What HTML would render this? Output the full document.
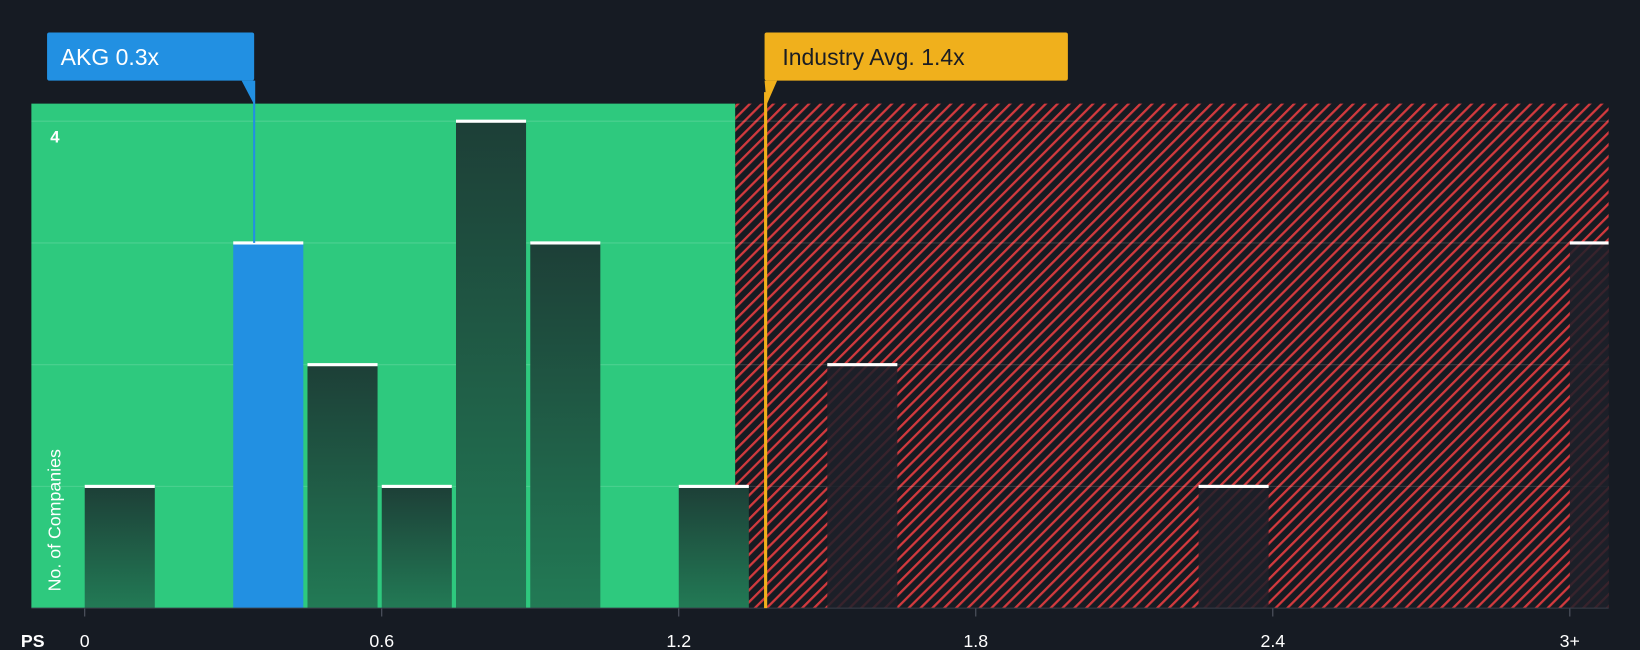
<!DOCTYPE html>
<html><head><meta charset="utf-8"><style>
html,body{margin:0;padding:0;background:#161b23;}
svg{display:block;font-family:"Liberation Sans",Arial,sans-serif;}
</style></head><body>
<svg id="chart" width="1640" height="650" viewBox="0 0 1568 621" preserveAspectRatio="none" xmlns="http://www.w3.org/2000/svg">
<defs>
<pattern id="hatch" patternUnits="userSpaceOnUse" width="8" height="8" patternTransform="rotate(45)">
<rect width="8" height="8" fill="#161b22"/>
<rect width="2.2" height="8" fill="#d23a3e"/>
</pattern>
<linearGradient id="gbar" x1="0" y1="0" x2="0" y2="1">
<stop offset="0" stop-color="#1d3f37"/><stop offset="1" stop-color="#227a55"/>
</linearGradient>
</defs>
<rect x="0" y="0" width="1568" height="621" fill="#161b23"/>
<rect x="30" y="99" width="673" height="482" fill="#2ec97e"/>
<rect x="703" y="99" width="835" height="482" fill="url(#hatch)"/>
<g id="grid"></g>
<g id="bars"></g>
<g id="ticks"></g>
<line x1="30" y1="581" x2="1538" y2="581" stroke="#3a3f4a" stroke-width="1"/>
<text x="58" y="565" transform="rotate(-90 58 565)" fill="#ffffff" font-size="17">No. of Companies</text>
<text x="48" y="136" fill="#ffffff" font-size="16" font-weight="bold">4</text>
<text x="20" y="618" fill="#ffffff" font-size="17" font-weight="bold">PS</text>
<line x1="732" y1="88" x2="732" y2="581" stroke="#f0b01c" stroke-width="3"/>
<rect x="731" y="31" width="290" height="46" rx="2" fill="#f0b01c"/>
<polygon points="731,77 743,77 733,100" fill="#f0b01c"/>
<text x="748" y="62" fill="#1a1d24" font-size="22">Industry Avg. 1.4x</text>
<line x1="243" y1="77" x2="243" y2="232" stroke="#2290e2" stroke-width="2"/>
<rect x="45" y="31" width="198" height="46" rx="2" fill="#2290e2"/>
<polygon points="231,77 243,77 243,100" fill="#2290e2"/>
<text x="58" y="62" fill="#ffffff" font-size="22">AKG 0.3x</text>
</svg>
<script>
const binStarts=[0,0.3,0.45,0.6,0.75,0.9,1.2,1.5,2.25,3.0];
const counts=[1,3,2,1,4,3,1,2,1,3];
const highlight=[false,true,false,false,false,false,false,false,false,false];
const tickValues=[0,0.6,1.2,1.8,2.4,3.0];
const tickLabels=["0","0.6","1.2","1.8","2.4","3+"];
const gridValues=[1,2,3,4];
const NS="http://www.w3.org/2000/svg";
const xs=v=>81+v*473.3;
const ys=v=>581-v*116.3;
const threshold=1.3;
function mk(t,a){const e=document.createElementNS(NS,t);for(const k in a)e.setAttribute(k,a[k]);return e;}
const grid=document.getElementById('grid');
gridValues.forEach(v=>{
 const l=mk('line',{x1:30,x2:1538,y1:ys(v),y2:ys(v),stroke:'#ffffff','stroke-opacity':0.15});
 
 
 grid.appendChild(l);
});
const bars=document.getElementById('bars');
binStarts.forEach((b,i)=>{
 const x=xs(b);let w=67;if(x+w>1538)w=1538-x;
 const y=ys(counts[i]);
 const red=b>=threshold&&!highlight[i];
 const fill=highlight[i]?'#2290e2':(red?'#1d2029':'url(#gbar)');
 const r=mk('rect',{x:x,y:y,width:w,height:581-y,fill:fill});
 if(red)r.setAttribute('fill-opacity','0.85');
 
 
 bars.appendChild(r);
 const cap=mk('rect',{x:x,y:y-1.5,width:w,height:3,fill:'#ffffff'});
 
 
 bars.appendChild(cap);
});
const ticks=document.getElementById('ticks');
tickValues.forEach((v,i)=>{
 const x=xs(v);
 const l=mk('line',{x1:x,x2:x,y1:581,y2:589,stroke:'#555a66'});
 
 
 ticks.appendChild(l);
 const t=mk('text',{x:x,y:618,fill:'#ffffff','font-size':17,'text-anchor':'middle'});
 t.textContent=tickLabels[i];
 
 
 ticks.appendChild(t);
});
</script>
</body></html>
